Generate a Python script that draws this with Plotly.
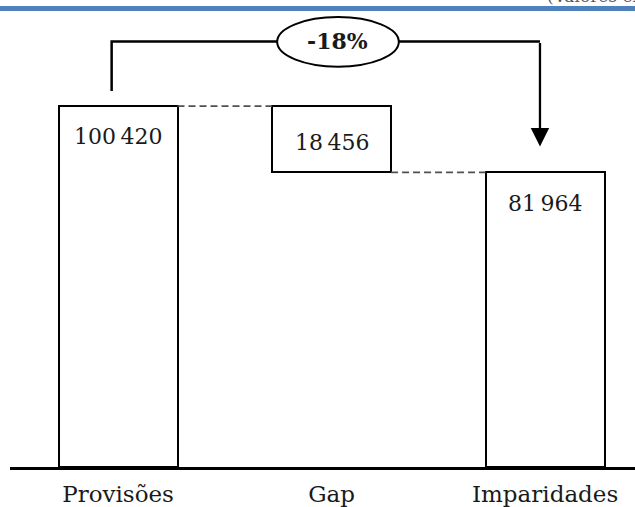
import plotly.graph_objects as go

# Waterfall data (thousands of euros)
categories = ["Provisões", "Gap", "Imparidades"]
provisoes = 100420
imparidades = 81964
gap = provisoes - imparidades          # 18 456
values = [provisoes, gap, imparidades]
bases = [0, imparidades, 0]
value_labels = ["100\u202f420", "18\u202f456", "81\u202f964"]

change_pct = round((imparidades - provisoes) / provisoes * 100)
change_label = f"{change_pct}%"

FONT = "DejaVu Serif"
BAR_W = 0.557
xs = list(range(len(categories)))

fig = go.Figure()

# Bars: white boxes with black outlines
fig.add_trace(go.Bar(
    x=xs, y=values, base=bases, width=BAR_W,
    marker=dict(color="white", line=dict(color="black", width=2)),
    hoverinfo="skip", showlegend=False,
))

# Dashed connectors between consecutive bars
tops = [b + v for b, v in zip(bases, values)]
connectors = [(0, 1, tops[0]), (1, 2, bases[1])]
for a, b, level in connectors:
    fig.add_trace(go.Scatter(
        x=[xs[a] + BAR_W / 2, xs[b] - BAR_W / 2], y=[level, level],
        mode="lines", line=dict(color="#505050", width=1.6, dash="7px,4px"),
        hoverinfo="skip", showlegend=False,
    ))

# Value labels inside the top of each bar
label_shift = [-16, -22, -17]
for x, top, txt, sh in zip(xs, tops, value_labels, label_shift):
    fig.add_annotation(x=x, y=top, text=txt, showarrow=False,
                       yanchor="top", yshift=sh,
                       font=dict(family=FONT, size=22, color="#1a1a1a"))

# Bracket from Provisões to Imparidades with the % change
y_bracket = provisoes * 1.179
x_left = xs[0] - 0.03
x_right = xs[2] - 0.024
fig.add_shape(type="path",
              path=f"M {x_left},{provisoes * 1.042} L {x_left},{y_bracket} L {x_right},{y_bracket}",
              line=dict(color="black", width=2.5))
fig.add_annotation(x=x_right, y=imparidades * 1.088, ax=x_right, ay=y_bracket,
                   xref="x", yref="y", axref="x", ayref="y",
                   showarrow=True, arrowhead=2, arrowsize=1.6, arrowwidth=2.3,
                   arrowcolor="black", text="")

x_mid = (xs[0] + xs[2]) / 2 + 0.03
fig.add_shape(type="circle", x0=x_mid - 0.285, x1=x_mid + 0.285,
              y0=y_bracket - 7000, y1=y_bracket + 6800,
              fillcolor="white", line=dict(color="black", width=2))
fig.add_annotation(x=x_mid, y=y_bracket, text=f"<b>{change_label}</b>",
                   showarrow=False,
                   font=dict(family=FONT, size=22, color="#1a1a1a"))

# Header rule and unit note
fig.add_shape(type="rect", xref="paper", yref="paper",
              x0=-0.02, x1=1.0, y0=1.0022, y1=1.0132,
              fillcolor="#4f81bd", line=dict(width=0))
fig.add_annotation(xref="paper", yref="paper", x=0.856, y=1.0095,
                   xanchor="left", yanchor="bottom", showarrow=False,
                   text="(Valores expressos em milhares de euros)",
                   font=dict(family=FONT, size=17, color="#595959"))

fig.update_layout(
    width=635, height=507,
    margin=dict(l=10, r=0, t=12, b=40),
    paper_bgcolor="white", plot_bgcolor="white",
    bargap=0,
    xaxis=dict(range=[-0.506, 2.421], tickmode="array", tickvals=xs,
               ticktext=categories, showgrid=False, zeroline=False,
               showline=True, linecolor="black", linewidth=2.5, ticks="",
               ticklabelstandoff=5,
               tickfont=dict(family=FONT, size=23, color="#1a1a1a")),
    yaxis=dict(range=[0, 126600], visible=False, showgrid=False),
)

fig.write_html("out.html")
